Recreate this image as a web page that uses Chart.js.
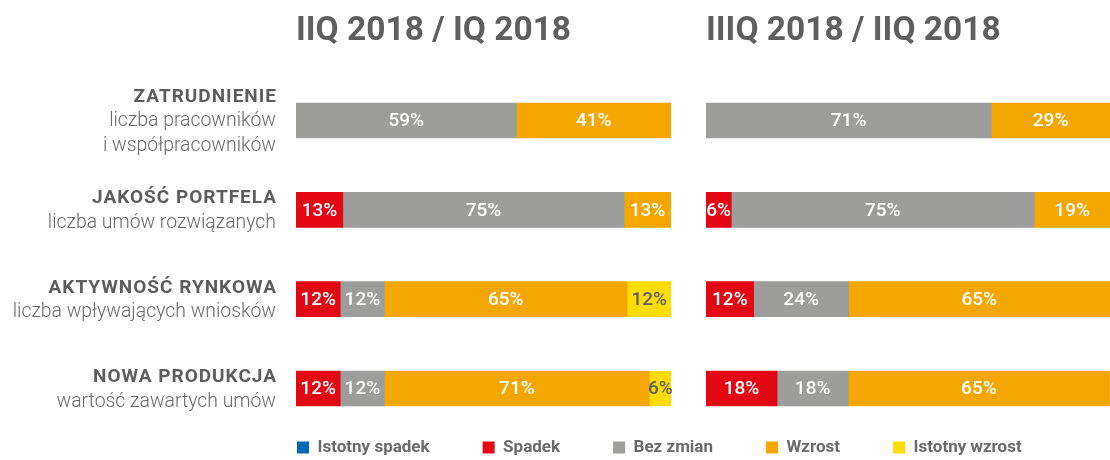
<!DOCTYPE html>
<html>
<head>
<meta charset="utf-8">
<script src="https://cdn.jsdelivr.net/npm/chart.js@4"></script>
<style>
  html, body { margin: 0; padding: 0; background: #ffffff; overflow: hidden; width: 1110px; height: 460px; }
  .box { position: absolute; }
</style>
</head>
<body>
<div class="box" style="left:0;top:0;width:690px;height:460px"><canvas id="left"></canvas></div>
<div class="box" style="left:690px;top:0;width:420px;height:460px"><canvas id="right"></canvas></div>
<div class="box" style="left:0;top:386px;width:1110px;height:150px"><canvas id="legend"></canvas></div>
<script>
// ---- data ----
const categories = ['ZATRUDNIENIE', 'JAKOŚĆ PORTFELA', 'AKTYWNOŚĆ RYNKOWA', 'NOWA PRODUKCJA'];
const categorySubtitles = [
  ['liczba pracowników', 'i współpracowników'],
  ['liczba umów rozwiązanych'],
  ['liczba wpływających wniosków'],
  ['wartość zawartych umów']
];
const panelTitles = ['IIQ 2018 / IQ 2018', 'IIIQ 2018 / IIQ 2018'];
const seriesNames = ['Istotny spadek', 'Spadek', 'Bez zmian', 'Wzrost', 'Istotny wzrost'];

// IIQ 2018 / IQ 2018 (share of answers, %)
const q2IstotnySpadek = [0, 0, 0, 0];
const q2Spadek        = [0, 12.5, 11.8, 11.8];
const q2BezZmian      = [58.8, 75, 11.8, 11.8];
const q2Wzrost        = [41.2, 12.5, 64.7, 70.6];
const q2IstotnyWzrost = [0, 0, 11.8, 5.9];

// IIIQ 2018 / IIQ 2018 (share of answers, %)
const q3IstotnySpadek = [0, 0, 0, 0];
const q3Spadek        = [0, 6.25, 11.8, 17.6];
const q3BezZmian      = [70.6, 75, 23.5, 17.6];
const q3Wzrost        = [29.4, 18.75, 64.7, 64.7];
const q3IstotnyWzrost = [0, 0, 0, 0];

const colors = ['#0069b4', '#e30613', '#9d9d9c', '#f6a600', '#ffdc00'];
const labelColors = ['#ffffff', '#ffffff', '#ffffff', '#ffffff', '#5f5f5f'];

const FONT = "Roboto, 'Open Sans', sans-serif";
const TITLE_COLOR = '#5f5f5f';

function makeDatasets(arrs) {
  return arrs.map((d, i) => ({
    label: seriesNames[i],
    data: d,
    backgroundColor: (c) => (c.raw ? colors[i] : 'rgba(0,0,0,0)'),
    borderWidth: 0,
    barThickness: 35,
    stack: 's'
  }));
}

const valueLabels = {
  id: 'valueLabels',
  afterDatasetsDraw(chart) {
    const ctx = chart.ctx;
    ctx.save();
    ctx.font = "500 19px " + FONT;
    ctx.textAlign = 'center';
    ctx.textBaseline = 'middle';
    chart.data.datasets.forEach((ds, di) => {
      const meta = chart.getDatasetMeta(di);
      meta.data.forEach((bar, i) => {
        const v = ds.data[i];
        if (!v) return;
        ctx.fillStyle = labelColors[di];
        ctx.fillText(Math.round(v) + '%', (bar.x + bar.base) / 2, bar.y + 1);
      });
    });
    ctx.restore();
  }
};

const rowLabels = {
  id: 'rowLabels',
  afterDraw(chart) {
    const ctx = chart.ctx;
    const y = chart.scales.y;
    ctx.save();
    ctx.textAlign = 'right';
    ctx.textBaseline = 'middle';
    categories.forEach((c, i) => {
      const lines = [c].concat(categorySubtitles[i]);
      const cy = y.getPixelForValue(i) + 1;
      lines.forEach((t, k) => {
        const ly = cy + (k - (lines.length - 1) / 2) * 24.5;
        if (k === 0) {
          ctx.font = "bold 19px " + FONT;
          ctx.fillStyle = '#5d5d5d';
          ctx.letterSpacing = '1px';
          ctx.fillText(t, 277, ly);
        } else {
          ctx.font = "300 19.4px " + FONT;
          ctx.fillStyle = '#6a6a6a';
          ctx.letterSpacing = '0px';
          ctx.fillText(t, 276, ly);
        }
      });
    });
    ctx.restore();
  }
};

function panelOptions(title, padding) {
  return {
    indexAxis: 'y',
    responsive: true,
    maintainAspectRatio: false,
    animation: false,
    layout: { padding: padding },
    scales: {
      x: { stacked: true, min: 0, max: 100, display: false },
      y: { stacked: true, display: false }
    },
    plugins: {
      legend: { display: false },
      tooltip: { enabled: false },
      title: {
        display: true,
        text: title,
        align: 'start',
        color: TITLE_COLOR,
        font: { family: FONT, size: 33.5, weight: 'bold', lineHeight: 1.2 },
        padding: { top: 11.9, bottom: 23.7 }
      }
    }
  };
}

new Chart(document.getElementById('left'), {
  type: 'bar',
  data: {
    labels: categories,
    datasets: makeDatasets([q2IstotnySpadek, q2Spadek, q2BezZmian, q2Wzrost, q2IstotnyWzrost])
  },
  options: panelOptions(panelTitles[0], { left: 296, right: 19, top: 0, bottom: 26.8 }),
  plugins: [valueLabels, rowLabels]
});

new Chart(document.getElementById('right'), {
  type: 'bar',
  data: {
    labels: categories,
    datasets: makeDatasets([q3IstotnySpadek, q3Spadek, q3BezZmian, q3Wzrost, q3IstotnyWzrost])
  },
  options: panelOptions(panelTitles[1], { left: 16, right: 0, top: 0, bottom: 26.8 }),
  plugins: [valueLabels]
});

new Chart(document.getElementById('legend'), {
  type: 'bar',
  data: {
    labels: [],
    datasets: seriesNames.map((n, i) => ({ label: n, data: [], backgroundColor: colors[i], borderWidth: 0 }))
  },
  options: {
    responsive: true,
    maintainAspectRatio: false,
    animation: false,
    layout: { padding: { left: 244, top: 0 } },
    scales: { x: { display: false }, y: { display: false } },
    plugins: {
      tooltip: { enabled: false },
      legend: {
        display: true,
        position: 'top',
        align: 'start',
        onClick: null,
        labels: {
          boxWidth: 12,
          boxHeight: 12,
          padding: 53,
          color: '#6a6a6a',
          font: { family: FONT, size: 17, weight: 'bold' }
        }
      }
    }
  }
});
</script>
</body>
</html>
